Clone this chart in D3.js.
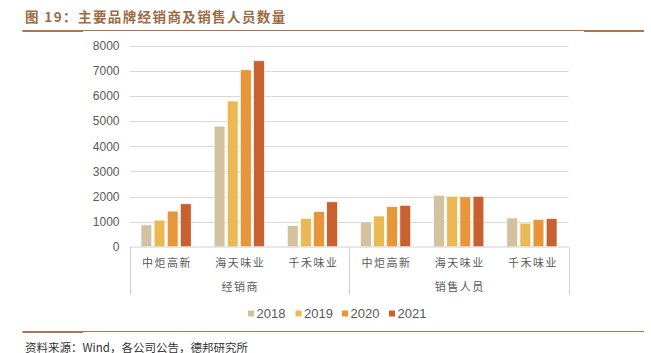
<!DOCTYPE html>
<html>
<head>
<meta charset="utf-8">
<script src="https://cdn.jsdelivr.net/npm/d3@7"></script>
<style>
  body { margin: 0; background: #fff; }
  svg text { font-family: 'Liberation Sans', Arial, sans-serif; }
  .cjk { font-family: 'Noto Sans CJK SC', sans-serif; }
</style>
</head>
<body>
<div id="chart"></div>
<script>
const brands = ['中炬高新', '海天味业', '千禾味业']
const groups = ['经销商', '销售人员']
const years = ['2018', '2019', '2020', '2021']
const yTicks = [0, 1000, 2000, 3000, 4000, 5000, 6000, 7000, 8000]

// 经销商 x3, 销售人员 x3
const v2018 = [870, 4800, 840, 990, 2050, 1145]
const v2019 = [1060, 5800, 1130, 1225, 2010, 940]
const v2020 = [1420, 7040, 1400, 1600, 1990, 1090]
const v2021 = [1710, 7400, 1790, 1650, 2010, 1120]
const colors = ['#d3c29f', '#ebb954', '#e8963a', '#c8602f']

const series = [v2018, v2019, v2020, v2021]
const cats = []
groups.forEach((g) => brands.forEach((b) => cats.push(g + '|' + b)))

const width = 651, height = 353
const svg = d3.select('#chart').append('svg')
  .attr('width', width).attr('height', height)

const x0 = d3.scaleBand().domain(cats).range([129.5, 568.5])
const x1 = d3.scaleBand().domain(years)
  .range([11.5, x0.bandwidth() - 11.5]).paddingInner(0.18)
const y = d3.scaleLinear().domain([0, 8000]).range([246.8, 45.7])

// title
svg.append('text').attr('class', 'cjk')
  .attr('x', 25).attr('y', 21.5)
  .attr('font-size', 13.5).attr('font-weight', 'bold')
  .attr('letter-spacing', 1.4)
  .attr('fill', '#9c6a45')
  .text('图 19：主要品牌经销商及销售人员数量')

function rule(yy) {
  svg.append('line').attr('x1', 22.5).attr('x2', 644).attr('y1', yy).attr('y2', yy)
    .attr('stroke', '#a9764f').attr('stroke-width', 1)
  svg.append('line').attr('x1', 22.5).attr('x2', 83).attr('y1', yy + 0.5).attr('y2', yy + 0.5)
    .attr('stroke', '#a9764f').attr('stroke-width', 2)
}
rule(30.5)
svg.append('line').attr('x1', 584).attr('x2', 644).attr('y1', 31).attr('y2', 31)
  .attr('stroke', '#a9764f').attr('stroke-width', 2)
rule(331.5)

// grid + y labels
const yAxis = svg.append('g')
yAxis.selectAll('line').data(yTicks.filter((d) => d > 0)).join('line')
  .attr('x1', x0.range()[0]).attr('x2', x0.range()[1])
  .attr('y1', (d) => Math.round(y(d)) + 0.5).attr('y2', (d) => Math.round(y(d)) + 0.5)
  .attr('stroke', '#d9d9d9')
yAxis.selectAll('text').data(yTicks).join('text')
  .attr('x', 119.5).attr('y', (d) => y(d) + 4.3)
  .attr('text-anchor', 'end').attr('font-size', 12).attr('fill', '#595959')
  .text((d) => d)

// bars
const bars = svg.append('g')
cats.forEach((c, i) => {
  bars.selectAll(null).data(years).join('rect')
    .attr('x', (d) => x0(c) + x1(d))
    .attr('y', (d, j) => y(series[j][i]))
    .attr('width', x1.bandwidth())
    .attr('height', (d, j) => y(0) - y(series[j][i]))
    .attr('fill', (d, j) => colors[j])
    .attr('stroke', '#fff').attr('stroke-width', 0.6)
})

// category axis
const axis = svg.append('g')
axis.append('line')
  .attr('x1', x0.range()[0]).attr('x2', x0.range()[1])
  .attr('y1', 247).attr('y2', 247).attr('stroke', '#d0d0d0')
const splits = [x0(cats[0]), x0(cats[3]), x0.range()[1]]
axis.selectAll('line.tk').data(splits).join('line').attr('class', 'tk')
  .attr('x1', (d) => Math.round(d) + 0.5).attr('x2', (d) => Math.round(d) + 0.5)
  .attr('y1', 247).attr('y2', 295).attr('stroke', '#d0d0d0')
axis.selectAll('text.cat').data(cats).join('text').attr('class', 'cat cjk')
  .attr('x', (d) => x0(d) + x0.bandwidth() / 2 + 1).attr('y', 266.5)
  .attr('text-anchor', 'middle').attr('font-size', 11).attr('letter-spacing', 1.5)
  .attr('fill', '#595959')
  .text((d) => d.split('|')[1])
axis.selectAll('text.grp').data(groups).join('text').attr('class', 'grp cjk')
  .attr('x', (d) => {
    const a = x0(d + '|' + brands[0]), b = x0(d + '|' + brands[2]) + x0.bandwidth()
    return (a + b) / 2 + 1
  })
  .attr('y', 290.5)
  .attr('text-anchor', 'middle').attr('font-size', 11).attr('letter-spacing', 1.5)
  .attr('fill', '#595959')
  .text((d) => d)

// legend
const legX = [248, 295.5, 342, 389]
const leg = svg.append('g')
years.forEach((yr, i) => {
  leg.append('rect').attr('x', legX[i]).attr('y', 310.5).attr('width', 6).attr('height', 6)
    .attr('fill', colors[i])
  leg.append('text').attr('x', legX[i] + 8.5).attr('y', 318)
    .attr('font-size', 13).attr('fill', '#595959').text(yr)
})

// source
svg.append('text').attr('class', 'cjk')
  .attr('x', 25).attr('y', 351.5)
  .attr('font-size', 11.5).attr('fill', '#333')
  .text('资料来源：Wind，各公司公告，德邦研究所')
</script>
</body>
</html>
